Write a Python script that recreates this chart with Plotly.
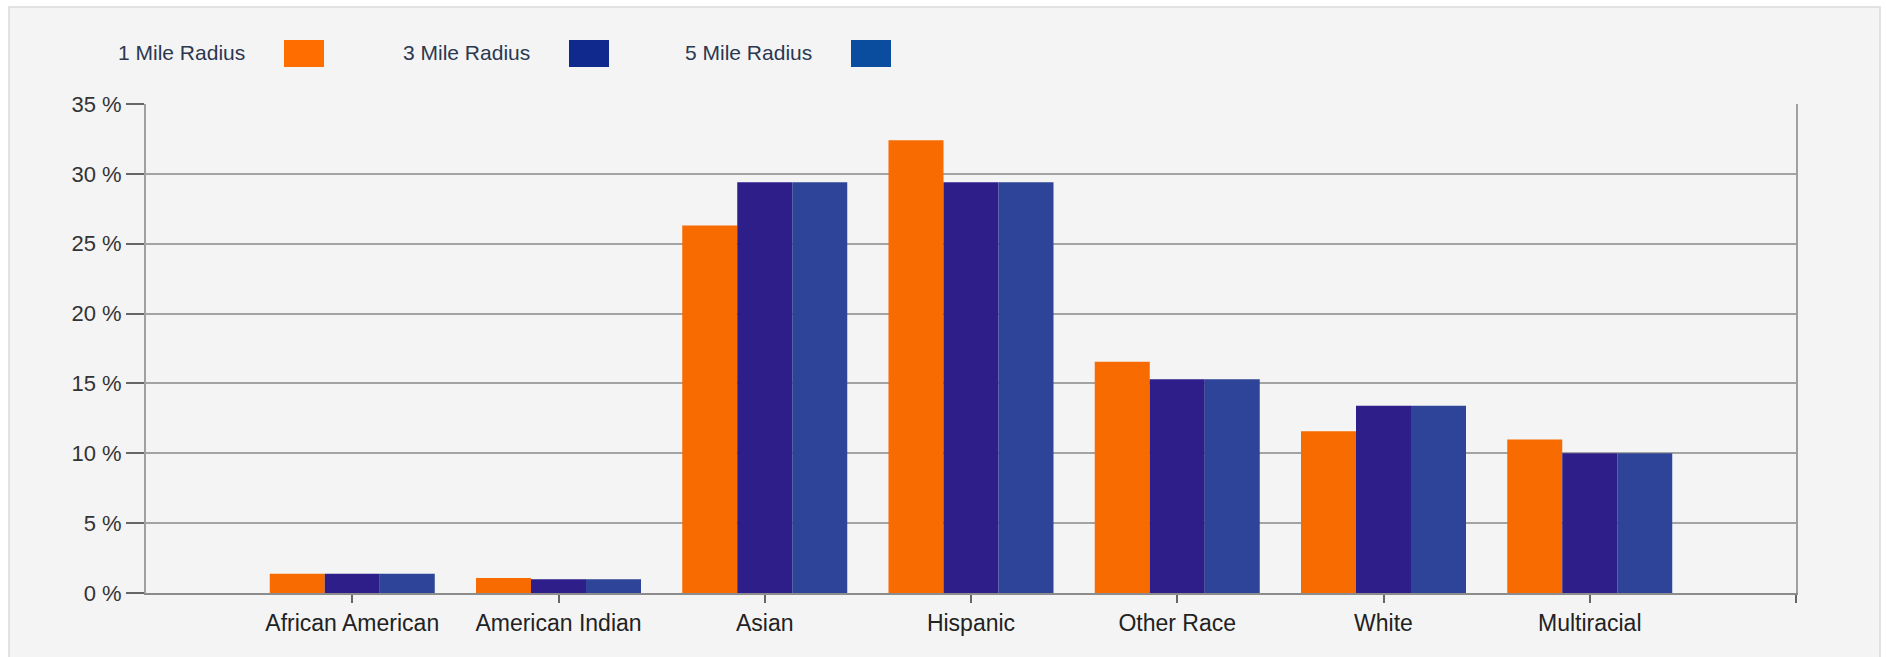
import plotly.graph_objects as go

categories = ["African American", "American Indian", "Asian", "Hispanic",
              "Other Race", "White", "Multiracial"]
series_names = ["1 Mile Radius", "3 Mile Radius", "5 Mile Radius"]
one_mile = [1.37, 1.07, 26.3, 32.4, 16.55, 11.57, 10.98]
three_mile = [1.37, 0.99, 29.4, 29.4, 15.3, 13.4, 10.0]
five_mile = [1.37, 0.99, 29.4, 29.4, 15.3, 13.4, 10.0]
y_ticks = [0, 5, 10, 15, 20, 25, 30, 35]
y_tick_labels = [f"{v} %" for v in y_ticks]

bar_colors = ["#F76B00", "#2D1E8A", "#2E4498"]
legend_colors = ["#FF6C00", "#0F2A8C", "#0A4C9E"]
values = [one_mile, three_mile, five_mile]

# page is 1887x657; the body margin is removed by the post script
OFF = 0
PAGE_W, PAGE_H = 1887, 657
W, H = PAGE_W - 2 * OFF, PAGE_H - 2 * OFF
# plot area in page pixels: x 146..1796, y 104..593
L, T = 146 - OFF, 104 - OFF
R = W - (1796 - OFF)
B = H - (593 - OFF)
pw, ph = W - L - R, H - T - B


def px(x):
    return (x - OFF - L) / pw


def py(y):
    return (H - B - (y - OFF)) / ph


xs = list(range(len(categories)))
fig = go.Figure()
for name, vals, col in zip(series_names, values, bar_colors):
    fig.add_trace(go.Bar(x=xs, y=vals, name=name,
                         marker=dict(color=col, line=dict(width=0)),
                         showlegend=False))

shapes = [dict(type="rect", xref="paper", yref="paper", layer="below",
               x0=px(9), x1=px(1880), y0=py(PAGE_H + 20), y1=py(7),
               fillcolor="#F4F4F4", line=dict(color="#DADADA", width=1.5))]
annotations = []
text_right = [247, 532, 814]
sw_left = [284, 569, 851]
for name, col, tr, sl in zip(series_names, legend_colors, text_right, sw_left):
    annotations.append(dict(text=name, xref="paper", yref="paper", x=px(tr), y=py(53),
                            xanchor="right", yanchor="middle", showarrow=False,
                            font=dict(family="Liberation Sans, Arial", size=21,
                                      color="#2B3850")))
    shapes.append(dict(type="rect", xref="paper", yref="paper", x0=px(sl), x1=px(sl + 40),
                       y0=py(67), y1=py(40), fillcolor=col, line=dict(width=0)))

fig.update_layout(
    width=W, height=H,
    margin=dict(l=L, r=R, t=T, b=B, pad=0),
    paper_bgcolor="white", plot_bgcolor="rgba(0,0,0,0)",
    barmode="group", bargap=0.2, bargroupgap=0,
    font=dict(family="Liberation Sans, Arial", size=21, color="#333333"),
    shapes=shapes, annotations=annotations,
    xaxis=dict(range=[-1, 7], tickmode="array", tickvals=xs + [7],
               ticktext=categories + [""], showgrid=False, zeroline=False,
               showline=True, linecolor="#8C8C8C", linewidth=2,
               ticks="outside", ticklen=8, tickwidth=1.5, tickcolor="#666666",
               tickfont=dict(size=23, color="#222222")),
    yaxis=dict(range=[0, 35], tickmode="array", tickvals=y_ticks,
               ticktext=y_tick_labels,
               showgrid=True, gridcolor="#A3A3A3", gridwidth=2, zeroline=False,
               showline=True, linecolor="#A0A0A0", linewidth=2, mirror=True,
               ticks="outside", ticklen=18, tickwidth=1.5, tickcolor="#666666",
               tickfont=dict(size=22, color="#333333")),
)

fig.write_html("out.html", config={"displayModeBar": False},
               post_script="document.body.style.margin='0';document.body.style.overflow='hidden';")
